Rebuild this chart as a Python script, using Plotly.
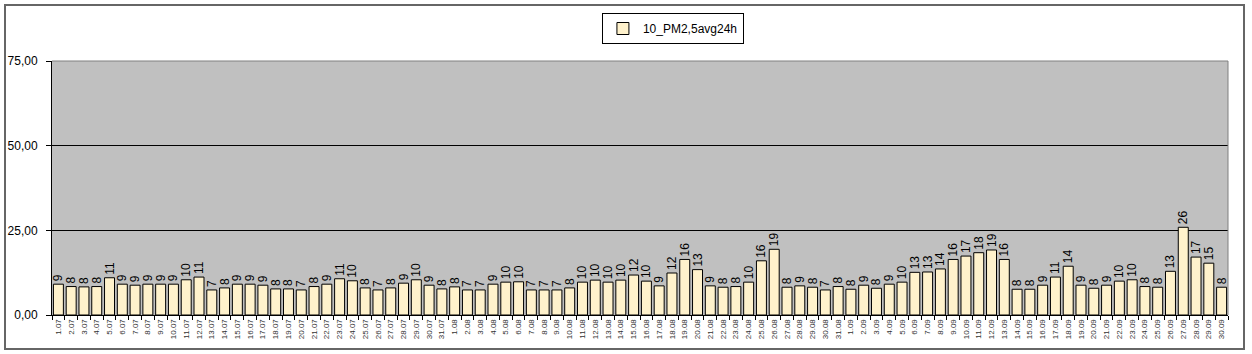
import plotly.graph_objects as go

dates = [f"{d}.07" for d in range(1, 32)] + [f"{d}.08" for d in range(1, 32)] + [f"{d}.09" for d in range(1, 31)]

pm25 = [
    # July
    9.1, 8.4, 8.3, 8.4, 11.0, 9.1, 8.8, 9.1, 9.1, 9.1, 10.4, 11.2, 7.4, 8.0, 9.1, 9.1,
    8.8, 7.7, 7.7, 7.4, 8.4, 9.1, 10.7, 10.1, 8.0, 7.4, 8.0, 9.4, 10.4, 8.8, 7.7,
    # August
    8.3, 7.4, 7.4, 9.1, 9.7, 9.8, 7.4, 7.4, 7.4, 8.0, 9.7, 10.3, 9.7, 10.3, 11.8, 10.0,
    8.6, 12.4, 16.4, 13.4, 8.6, 8.2, 8.4, 9.7, 16.0, 19.4, 8.2, 8.6, 8.2, 7.4, 8.4,
    # September
    7.6, 8.8, 7.9, 9.1, 9.7, 12.6, 12.7, 13.6, 16.4, 17.4, 18.4, 19.2, 16.4, 7.6, 7.6,
    8.8, 11.2, 14.4, 8.8, 7.9, 8.8, 10.0, 10.4, 8.4, 8.2, 12.9, 25.9, 17.1, 15.3, 8.2,
]

labels = [str(int(round(v))) for v in pm25]

fig = go.Figure()
fig.add_trace(go.Bar(
    x=dates, y=pm25, name="10_PM2,5avg24h",
    marker=dict(color="#FFF2CC", line=dict(color="#000000", width=1)),
    text=labels, textposition="outside", textangle=-90, constraintext="none",
    textfont=dict(family="Liberation Sans, Arial", size=12, color="#000000"),
    cliponaxis=False, width=0.78,
))

L, R, T, B = 52, 24, 61, 39
W, H = 1252, 354
pw, ph = W - L - R, H - T - B

def px_x(p):
    return (p - L) / pw

def px_y(p):
    return (H - B - p) / ph

fig.update_layout(
    width=W, height=H,
    margin=dict(l=L, r=R, t=T, b=B, pad=0),
    paper_bgcolor="#FFFFFF", plot_bgcolor="#C0C0C0",
    separators=",.",
    font=dict(family="Liberation Sans, Arial", size=12, color="#000000"),
    showlegend=True,
    legend=dict(x=0.528, y=px_y(13), xanchor="center", yanchor="top",
                bordercolor="#000000", borderwidth=1, bgcolor="#FFFFFF",
                font=dict(size=12), orientation="h", itemwidth=30),
    bargap=0.22,
    xaxis=dict(type="category", tickangle=-90, ticks="outside", ticklen=4,
               tickson="boundaries", tickcolor="#000000", automargin=False,
               tickfont=dict(size=8, color="#333333"),
               showgrid=False, showline=True, linecolor="#000000", linewidth=1),
    yaxis=dict(range=[0, 75], dtick=25, tickformat=".2f", ticks="outside", ticklen=5,
               tickcolor="#000000", showgrid=True, gridcolor="#000000", gridwidth=1,
               showline=True, linecolor="#000000", linewidth=1, zeroline=False,
               automargin=False, ticklabelstandoff=6, tickfont=dict(size=12)),
    shapes=[
        dict(type="line", xref="paper", yref="paper", x0=0, x1=1, y0=1, y1=1,
             line=dict(color="#808080", width=1)),
        dict(type="line", xref="paper", yref="paper", x0=1, x1=1, y0=0, y1=1,
             line=dict(color="#808080", width=1)),
        dict(type="rect", xref="paper", yref="paper",
             x0=px_x(5), x1=px_x(1244), y0=px_y(349), y1=px_y(5),
             line=dict(color="#666666", width=2), layer="below"),
    ],
)

fig.write_html("out.html")
